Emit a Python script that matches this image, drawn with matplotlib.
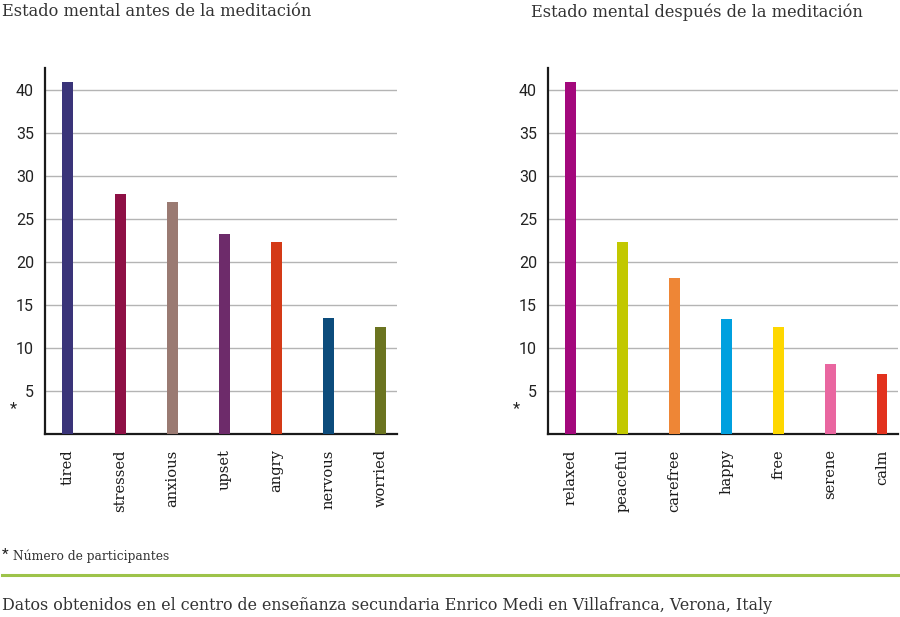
import matplotlib
matplotlib.use('Agg')
import matplotlib.pyplot as plt

# before meditation
before_labels = ['tired', 'stressed', 'anxious', 'upset', 'angry', 'nervous', 'worried']
before_values = [41, 28, 27, 23.3, 22.4, 13.5, 12.5]
before_colors = ['#3a3479', '#8e1045', '#9a7a72', '#6d2b6a', '#d43a17', '#0c4c7c', '#6b7420']

# after meditation
after_labels = ['relaxed', 'peaceful', 'carefree', 'happy', 'free', 'serene', 'calm']
after_values = [41, 22.4, 18.2, 13.4, 12.5, 8.1, 7.0]
after_colors = ['#a3087c', '#c2c800', '#ee8636', '#00a0df', '#fed700', '#e966a0', '#e2321e']

yticks = [5, 10, 15, 20, 25, 30, 35, 40]

titles = ['Estado mental antes de la meditación', 'Estado mental después de la meditación']
note = 'Número de participantes'
source = 'Datos obtenidos en el centro de enseñanza secundaria Enrico Medi en Villafranca, Verona, Italy'

serif = 'DejaVu Serif'
sans = 'Roboto'

fig = plt.figure(figsize=(9, 6.17), dpi=100)

ax1 = fig.add_axes([0.05, 0.2966, 0.391, 0.593])
ax2 = fig.add_axes([0.6089, 0.2966, 0.389, 0.593])


def draw(ax, labels, values, colors):
    x = range(len(labels))
    ax.bar(x, values, width=0.21, color=colors, zorder=3)
    ax.set_xlim(-0.44, 6.31)
    ax.set_ylim(0, 42.6)
    ax.set_yticks(yticks)
    ax.set_yticklabels([str(v) for v in yticks], fontfamily=sans, fontsize=11.5, color='#222222')
    ax.set_xticks(list(x))
    ax.set_xticklabels(labels, rotation=90, fontfamily=serif, fontsize=10.5,
                       color='#1a1a1a', va='top')
    ax.tick_params(axis='both', length=0)
    ax.tick_params(axis='y', pad=8)
    ax.tick_params(axis='x', pad=11)
    ax.grid(axis='y', color='#b4b4b4', linewidth=1.0, zorder=0)
    for s in ['top', 'right']:
        ax.spines[s].set_visible(False)
    for s in ['left', 'bottom']:
        ax.spines[s].set_linewidth(1.6)
        ax.spines[s].set_color('#1a1a1a')
    ax.text(-0.09, 0.07, '*', transform=ax.transAxes, fontsize=12,
            fontfamily=sans, color='#222222', ha='center', va='center')


draw(ax1, before_labels, before_values, before_colors)
draw(ax2, after_labels, after_values, after_colors)

fig.text(2 / 900, 1 - 12 / 617, titles[0], fontfamily=serif, fontsize=11.7,
         color='#333333', ha='left', va='center')
fig.text(531 / 900, 1 - 12 / 617, titles[1], fontfamily=serif, fontsize=11.7,
         color='#333333', ha='left', va='center')

fig.text(2 / 900, 1 - 555 / 617, '*', fontfamily=sans, fontsize=11,
         color='#222222', ha='left', va='center')
fig.text(13 / 900, 1 - 556 / 617, note, fontfamily=serif, fontsize=8.8,
         color='#333333', ha='left', va='center')

fig.add_artist(plt.Line2D([2 / 900, 1], [1 - 575 / 617, 1 - 575 / 617],
                          color='#9dc34a', linewidth=2.2, transform=fig.transFigure))

fig.text(2 / 900, 1 - 606 / 617, source, fontfamily=serif, fontsize=11.4,
         color='#333333', ha='left', va='center')

fig.savefig('out.png', dpi=100)
